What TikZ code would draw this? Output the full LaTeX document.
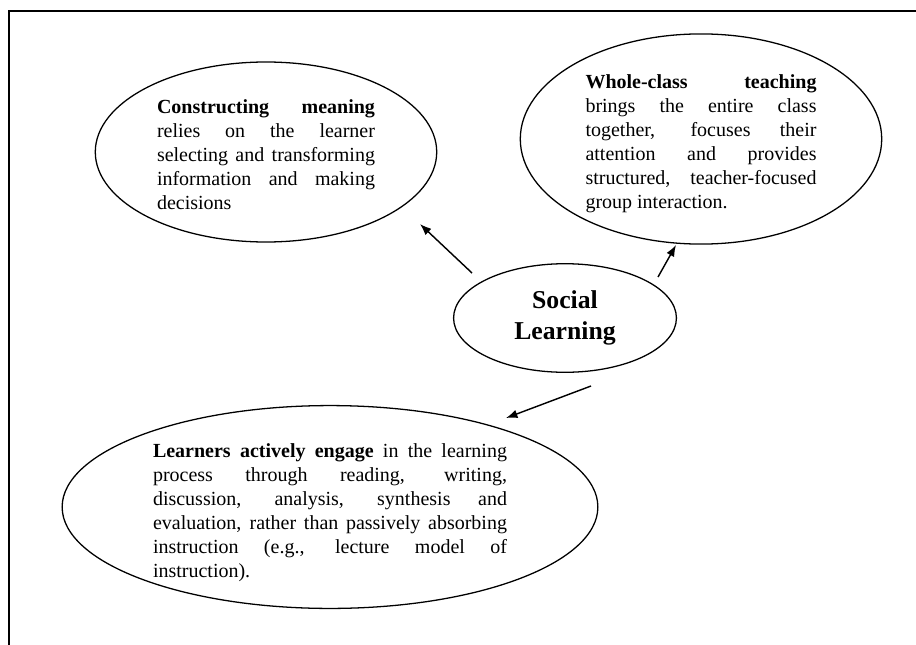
\documentclass[tikz,border=0pt]{standalone}
\usepackage{fontspec}
\setmainfont{Liberation Serif}
\usepackage{tikz}
\usetikzlibrary{positioning, arrows.meta, shapes.geometric}

\begin{document}
\begin{tikzpicture}[
      x=0.7pt, y=-0.7pt,
      bubble/.style={
        ellipse, draw, line width=0.9pt, inner sep=0pt,
        align=justify, font=\fontsize{14}{16.8}\selectfont
      },
      hub/.style={
        ellipse, draw, line width=0.9pt, inner sep=0pt,
        minimum width=156pt, minimum height=76pt,
        align=center, font=\fontsize{18}{21.7}\selectfont\bfseries
      },
      arr/.style={-{Latex[length=8pt,width=6pt]}, line width=1pt}
    ]
      \useasboundingbox (0,0) rectangle (916,645);
      % frame, only top and left edges show
      \draw[line width=1.4pt] (9,645) -- (9,11) -- (916,11);

      \node[hub] (soc) at (565,318) {Social\\Learning};
      \node[bubble, minimum width=239pt, minimum height=126pt, text width=152.6pt, text height=14pt] (mean) at (266,152)
        {\textbf{Constructing meaning}\linebreak relies on the learner\linebreak selecting and transforming\linebreak information and making\linebreak decisions};
      \node[bubble, minimum width=253pt, minimum height=146pt, text width=161.7pt, text height=17pt] (whole) at (701,139)
        {\textbf{Whole-class teaching}\linebreak brings the entire class\linebreak together, focuses their\linebreak attention and provides\linebreak structured, teacher-focused\linebreak group interaction.};
      \node[bubble, minimum width=375pt, minimum height=142pt, text width=247.8pt, text height=18pt, inner ysep=-8pt] (engage) at (330,507)
        {\textbf{Learners actively engage} in the learning\linebreak process through reading, writing,\linebreak discussion, analysis, synthesis and\linebreak evaluation, rather than passively absorbing\linebreak instruction (e.g., lecture model of\linebreak instruction).};

      % arrow ends float between the ellipses
      \coordinate (t1) at (472,273); \coordinate (h1) at (420,224);
      \coordinate (t2) at (658,277); \coordinate (h2) at (676,245);
      \coordinate (t3) at (591,386); \coordinate (h3) at (506,418);
      \foreach \a/\b in {t1/h1, t2/h2, t3/h3}{\draw[arr] (\a) -- (\b);}
    \end{tikzpicture}
\end{document}
